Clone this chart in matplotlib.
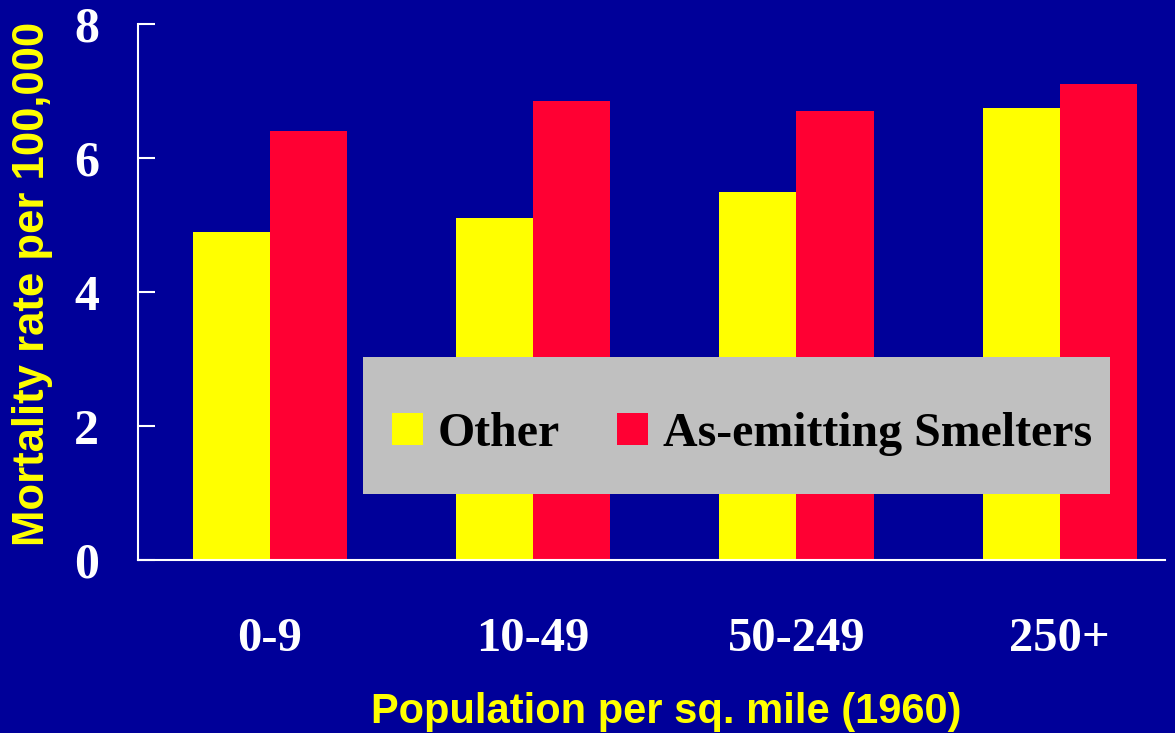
import matplotlib.pyplot as plt
from matplotlib.patches import Rectangle
import numpy as np

# data
groups = ['0-9', '10-49', '50-249', '250+']
other = [4.9, 5.1, 5.5, 6.75]
smelters = [6.4, 6.85, 6.7, 7.1]
yticks = [0, 2, 4, 6, 8]

bg = '#000099'
yellow = '#FFFF00'
red = '#FF0033'

W, H = 1175, 733
fig = plt.figure(figsize=(W/100, H/100), dpi=100, facecolor=bg)
ax = fig.add_axes([138/W, 1-560/H, (1165-138)/W, (560-24)/H])
ax.set_facecolor(bg)

x = np.arange(len(groups))
w = 0.293
ax.bar(x - w/2, other, w, color=yellow, label='Other', zorder=2)
ax.bar(x + w/2, smelters, w, color=red, label='As-emitting Smelters', zorder=2)

ax.set_xlim(-0.501, 3.40)
ax.set_ylim(0, 8)

for s in ['top', 'right']:
    ax.spines[s].set_visible(False)
for s in ['left', 'bottom']:
    ax.spines[s].set_color('white')
    ax.spines[s].set_linewidth(1.5)

ax.set_yticks(yticks)
ax.set_yticklabels([str(t) for t in yticks], family='Liberation Serif',
                   fontweight='bold', fontsize=36, color='white')
ax.tick_params(axis='y', direction='in', length=12, width=1.5, color='white', pad=28)
ax.set_xticks(x)
ax.set_xticklabels(groups, family='Liberation Serif', fontweight='bold',
                   fontsize=35, color='white')
ax.tick_params(axis='x', length=0, pad=41)

ax.set_ylabel('Mortality rate per 100,000', family='Liberation Sans',
              fontweight='bold', fontsize=31.5, color=yellow)
ax.yaxis.label.set(va='center', ha='center')
ax.yaxis.set_label_coords(33/W, 1-284/H, transform=fig.transFigure)
ax.set_xlabel('Population per sq. mile (1960)', family='Liberation Sans',
              fontweight='bold', fontsize=30, color=yellow)
ax.xaxis.label.set(va='baseline', ha='center')
ax.xaxis.set_label_coords(666/W, 1-723/H, transform=fig.transFigure)

# grey legend panel
ax.add_patch(Rectangle((363/W, 1-494/H), (1110-363)/W, (494-357)/H,
                       transform=fig.transFigure, facecolor='#C0C0C0',
                       edgecolor='none', zorder=4, clip_on=False))

leg = ax.legend(loc='center left', ncol=2, frameon=False,
                bbox_to_anchor=(392/W, 1-434/H), bbox_transform=fig.transFigure,
                prop={'family': 'Liberation Serif', 'weight': 'bold', 'size': 34.5},
                handlelength=0.65, handleheight=0.67, handletextpad=0.31,
                columnspacing=1.19, borderpad=0, borderaxespad=0)
leg.set_zorder(5)

fig.savefig('out.png', dpi=100, facecolor=bg)
